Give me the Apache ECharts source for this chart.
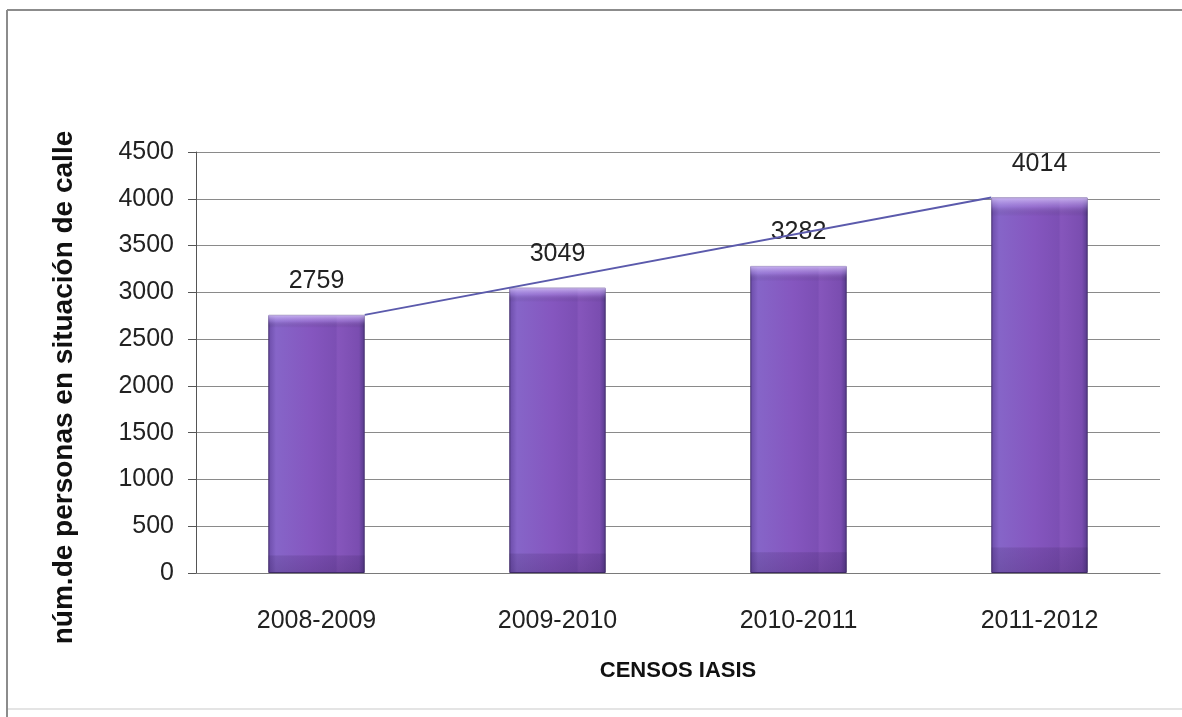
<!DOCTYPE html>
<html>
<head>
<meta charset="utf-8">
<title>Censos IASIS</title>
<script src="https://cdn.jsdelivr.net/npm/echarts@6/dist/echarts.min.js"></script>
<style>
  html, body { margin: 0; padding: 0; background: #ffffff; }
  #chart { width: 1182px; height: 717px; }
</style>
</head>
<body>
<div id="chart"></div>
<script>
// Census periods and counted people living on the street
const categories = ['2008-2009', '2009-2010', '2010-2011', '2011-2012'];
const values = [2759, 3049, 3282, 4014];
const yTicks = { min: 0, max: 4500, interval: 500 };

const FONT = "'Liberation Sans', Arial, sans-serif";
const BAR_SHARE = 0.4; // bar width as a share of each category slot

// Connector from the top-right corner of the first bar to the top-left corner of the last one
const n = categories.length;
const trend = [
  [0.5 + BAR_SHARE / 2, values[0]],
  [n - 0.5 - BAR_SHARE / 2, values[n - 1]]
];

const barFill = new echarts.graphic.LinearGradient(0, 0, 1, 0, [
  { offset: 0, color: '#6b4ca8' },
  { offset: 0.08, color: '#8665c8' },
  { offset: 0.45, color: '#8556bf' },
  { offset: 0.7, color: '#7c4fb4' },
  { offset: 0.72, color: '#8656bc' },
  { offset: 0.94, color: '#7a4db0' },
  { offset: 1, color: '#553a8a' }
]);

// Bevel shading laid over the bars: light rim on top, darker band at the base
const barShade = new echarts.graphic.LinearGradient(0, 0, 0, 1, [
  { offset: 0, color: 'rgba(225,210,255,0.75)' },
  { offset: 0.025, color: 'rgba(200,180,250,0.25)' },
  { offset: 0.05, color: 'rgba(0,0,0,0)' },
  { offset: 0.93, color: 'rgba(0,0,0,0)' },
  { offset: 0.935, color: 'rgba(40,20,70,0.15)' },
  { offset: 1, color: 'rgba(40,20,70,0.24)' }
]);

const chart = echarts.init(document.getElementById('chart'), null, { renderer: 'canvas' });

chart.setOption({
  backgroundColor: '#ffffff',
  animation: false,
  grid: { left: 196, right: 22, top: 152, bottom: 144, containLabel: false },
  xAxis: [
    {
      type: 'category',
      data: categories,
      axisLine: { show: true, lineStyle: { color: '#7a7a7a', width: 1 } },
      axisTick: { show: false },
      axisLabel: { color: '#222', fontFamily: FONT, fontSize: 25, margin: 36 },
      name: 'CENSOS IASIS',
      nameLocation: 'middle',
      nameGap: 87,
      nameTextStyle: { color: '#111', fontFamily: FONT, fontSize: 22, fontWeight: 'bold' }
    },
    {
      type: 'value',
      min: 0,
      max: n,
      show: false
    }
  ],
  yAxis: {
    type: 'value',
    min: yTicks.min,
    max: yTicks.max,
    interval: yTicks.interval,
    axisLine: { show: true, lineStyle: { color: '#555', width: 1 } },
    axisTick: { show: true, length: 8, lineStyle: { color: '#555' } },
    axisLabel: { color: '#222', fontFamily: FONT, fontSize: 25, margin: 22, formatter: v => String(v) },
    splitLine: { show: true, lineStyle: { color: '#8a8a8a', width: 1 } },
    name: 'núm.de personas en situación de calle',
    nameLocation: 'middle',
    nameGap: 118,
    nameRotate: 90,
    nameTextStyle: { color: '#111', fontFamily: FONT, fontSize: 28, fontWeight: 'bold', padding: [0, 50, 0, 0] }
  },
  series: [
    {
      type: 'bar',
      xAxisIndex: 0,
      data: values,
      barWidth: (BAR_SHARE * 100) + '%',
      itemStyle: { color: barFill, borderColor: '#45306f', borderWidth: 1 },
      label: {
        show: true,
        position: 'top',
        distance: 21,
        color: '#222',
        fontFamily: FONT,
        fontSize: 25
      }
    },
    {
      type: 'bar',
      xAxisIndex: 0,
      data: values,
      barWidth: (BAR_SHARE * 100) + '%',
      barGap: '-100%',
      silent: true,
      itemStyle: { color: barShade },
      z: 2
    },
    {
      type: 'line',
      xAxisIndex: 1,
      data: trend,
      symbol: 'none',
      silent: true,
      lineStyle: { color: '#5b5aac', width: 2 },
      z: 3
    }
  ],
  graphic: [
    { type: 'line', shape: { x1: 7, y1: 10, x2: 1182, y2: 10 }, style: { stroke: '#8c8c8c', lineWidth: 2 } },
    { type: 'line', shape: { x1: 7, y1: 10, x2: 7, y2: 717 }, style: { stroke: '#8c8c8c', lineWidth: 2 } },
    { type: 'line', shape: { x1: 8, y1: 709, x2: 1182, y2: 709 }, style: { stroke: '#e4e4e4', lineWidth: 2 } }
  ]
});
</script>
</body>
</html>
